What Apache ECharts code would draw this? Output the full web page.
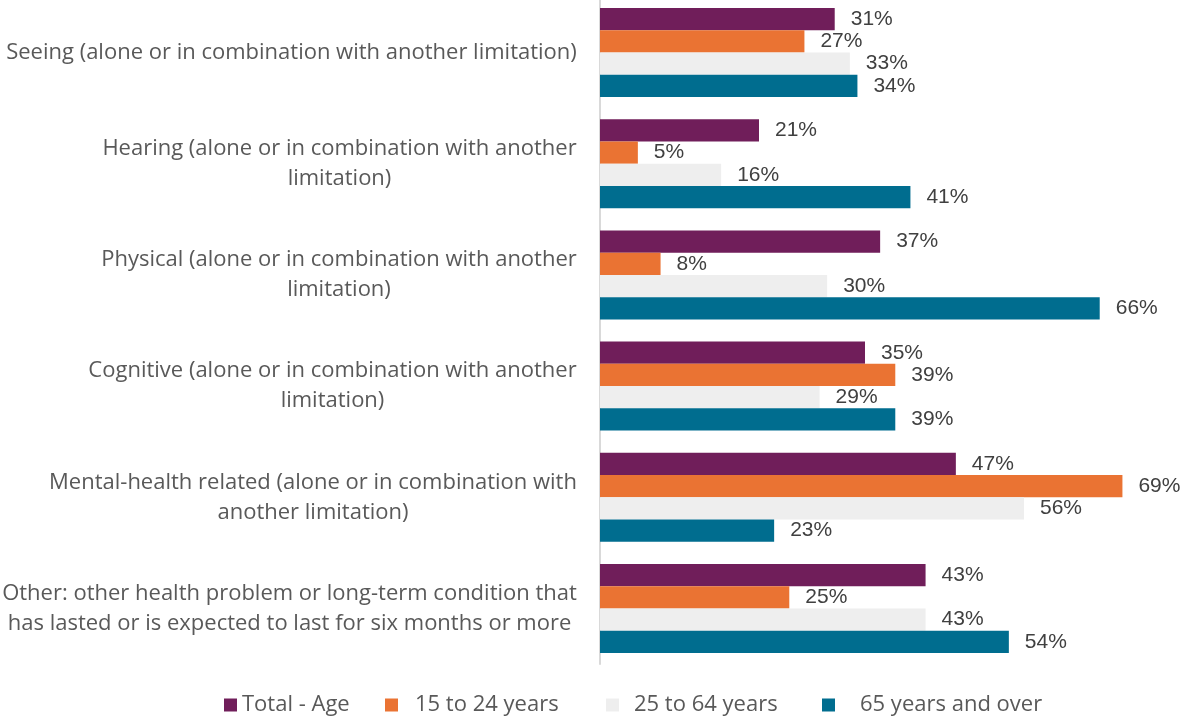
<!DOCTYPE html>
<html>
<head>
<meta charset="utf-8">
<script src="https://cdn.jsdelivr.net/npm/echarts@6/dist/echarts.min.js"></script>
<style>
  html, body { margin: 0; padding: 0; background: #fff; }
  #chart { width: 1186px; height: 717px; }
</style>
</head>
<body>
<div id="chart"></div>
<script>
'use strict';

// categories (top to bottom)
var categories = [
    'Seeing (alone or in combination with another limitation)',
    'Hearing (alone or in combination with another\nlimitation)',
    'Physical (alone or in combination with another\nlimitation)',
    'Cognitive (alone or in combination with another\nlimitation)',
    'Mental-health related (alone or in combination with\nanother limitation)',
    'Other: other health problem or long-term condition that\nhas lasted or is expected to last for six months or more'
];

// series names
var seriesNames = ['Total - Age', '15 to 24 years', '25 to 64 years', '65 years and over'];

// values in %
var totalAge = [31, 21, 37, 35, 47, 43];
var age15to24 = [27, 5, 8, 39, 69, 25];
var age25to64 = [33, 16, 30, 29, 56, 43];
var age65plus = [34, 41, 66, 39, 23, 54];

var colors = ['#701E5A', '#EA7333', '#EEEEEE', '#006D8F'];
var CAT_FONT = 'Open Sans, Noto Sans, sans-serif';
var CAT_SIZE = 22;
var VAL_FONT = 'Liberation Sans, Arial, sans-serif';
var catColor = '#595959';
var valColor = '#404040';

// measure text so the two-line labels can be centred as a block
var ctx = document.createElement('canvas').getContext('2d');
ctx.font = CAT_SIZE + 'px ' + CAT_FONT;
function blockWidth(txt) {
    var w = 0;
    txt.split('\n').forEach(function (l) {
        w = Math.max(w, ctx.measureText(l).width);
    });
    return Math.ceil(w) + 2;
}

var chart = echarts.init(document.getElementById('chart'));

function makeSeries(idx, data) {
    return {
        name: seriesNames[idx],
        type: 'bar',
        data: data,
        barGap: '0%',
        barCategoryGap: '20%',
        itemStyle: { color: colors[idx] },
        label: {
            show: true,
            position: 'right',
            distance: 16,
            color: valColor,
            fontSize: 21,
            fontFamily: VAL_FONT,
            formatter: '{c}%'
        },
        animation: false
    };
}

// one legend per item so the uneven spacing of the original can be kept
var legendLeft = [219, 380, 601, 817];
var legendPadLeft = [0, 12, 10, 20];
var legends = seriesNames.map(function (n, i) {
    return {
        top: 689,
        left: legendLeft[i],
        itemWidth: 13,
        itemHeight: 13,
        icon: 'rect',
        data: [n],
        textStyle: {
            fontSize: CAT_SIZE, color: catColor, fontFamily: CAT_FONT,
            padding: [0, 0, 0, legendPadLeft[i]]
        }
    };
});

var rich = {};
categories.forEach(function (c) {
    var w = blockWidth(c);
    rich['w' + w] = {
        width: w, align: 'center', fontSize: CAT_SIZE, fontFamily: CAT_FONT,
        color: catColor, lineHeight: 30
    };
});

var option = {
    grid: {
        left: 600,
        top: -3,
        height: 667,
        width: 530,
        outerBoundsMode: 'none'
    },
    legend: legends,
    xAxis: {
        type: 'value',
        min: 0,
        max: 70,
        show: false
    },
    yAxis: {
        type: 'category',
        inverse: true,
        data: categories,
        axisTick: { show: false },
        axisLine: { show: true, lineStyle: { color: '#D9D9D9', width: 2 } },
        axisLabel: {
            margin: 22,
            color: catColor,
            fontSize: CAT_SIZE,
            fontFamily: CAT_FONT,
            lineHeight: 30,
            // each label gets its own centred block width
            formatter: function (val) {
                var key = 'w' + blockWidth(val);
                return val.split('\n').map(function (l) {
                    return '{' + key + '|' + l + '}';
                }).join('\n');
            },
            rich: rich
        }
    },
    series: [
        makeSeries(0, totalAge),
        makeSeries(1, age15to24),
        makeSeries(2, age25to64),
        makeSeries(3, age65plus)
    ]
};

chart.setOption(option);
</script>
</body>
</html>
